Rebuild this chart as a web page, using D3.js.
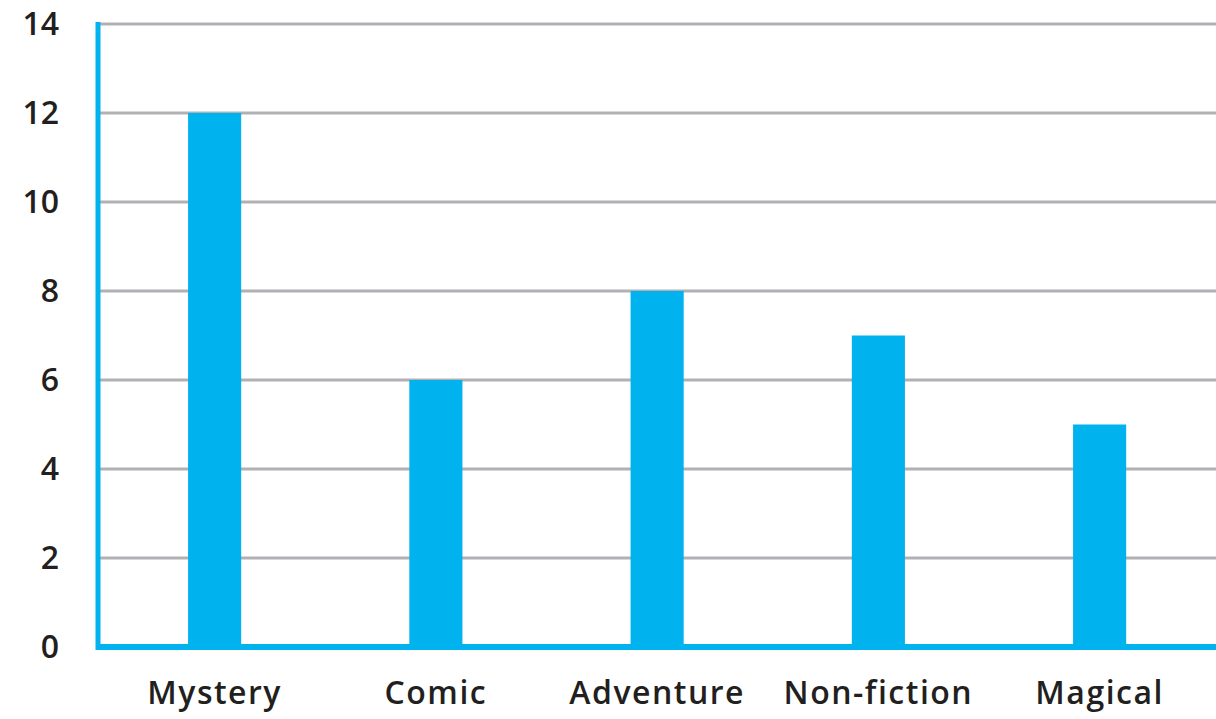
<!DOCTYPE html>
<html>
<head>
<meta charset="utf-8">
<script src="https://cdn.jsdelivr.net/npm/d3@7"></script>
<style>
  body { margin: 0; background: #fff; }
  svg { display: block; }
  text { font-family: "Open Sans", "Noto Sans", sans-serif; fill: #231f20; }
</style>
</head>
<body>
<svg id="chart"></svg>
<script>
const categories = ['Mystery', 'Comic', 'Adventure', 'Non-fiction', 'Magical'];
const books = [12, 6, 8, 7, 5];
const yTicks = [0, 2, 4, 6, 8, 10, 12, 14];

const width = 1216, height = 719;
const svg = d3.select('#chart').attr('width', width).attr('height', height);

const x = d3.scaleBand()
    .domain(categories)
    .range([104, 1210.25])
    .paddingInner(0.76)
    .paddingOuter(0.38);

const y = d3.scaleLinear()
    .domain([0, 14])
    .range([647, 24]);

// grid lines
svg.append('g')
    .selectAll('line')
    .data(yTicks.filter(d => d > 0))
    .join('line')
    .attr('x1', 98)
    .attr('x2', width)
    .attr('y1', d => y(d))
    .attr('y2', d => y(d))
    .style('stroke', '#b1b1b5')
    .style('stroke-width', 3);

// bars
svg.append('g')
    .selectAll('rect')
    .data(books)
    .join('rect')
    .attr('x', (d, i) => x(categories[i]))
    .attr('width', x.bandwidth())
    .attr('y', d => y(d))
    .attr('height', d => y(0) - y(d))
    .style('fill', '#00b2ee');

// y axis
const yAxis = svg.append('g')
    .attr('transform', 'translate(98,0)')
    .call(d3.axisLeft(y).tickValues(yTicks).tickSize(0).tickPadding(39));
yAxis.select('.domain')
    .attr('d', `M0,${y(14) - 2}V${y(0) + 3}`)
    .style('stroke', '#00b2ee')
    .style('stroke-width', 5);
yAxis.selectAll('text')
    .style('font-size', '32px')
    .style('font-weight', 600)
    .style('fill', '#231f20');

// x axis
const xAxis = svg.append('g')
    .attr('transform', `translate(0,${y(0)})`)
    .call(d3.axisBottom(x).tickSize(0).tickPadding(34));
xAxis.select('.domain')
    .attr('d', `M96,0H${width}`)
    .style('stroke', '#00b2ee')
    .style('stroke-width', 6);
xAxis.selectAll('text')
    .style('font-size', '32px')
    .style('font-weight', 600)
    .style('letter-spacing', '1.5px')
    .style('fill', '#231f20');
</script>
</body>
</html>
